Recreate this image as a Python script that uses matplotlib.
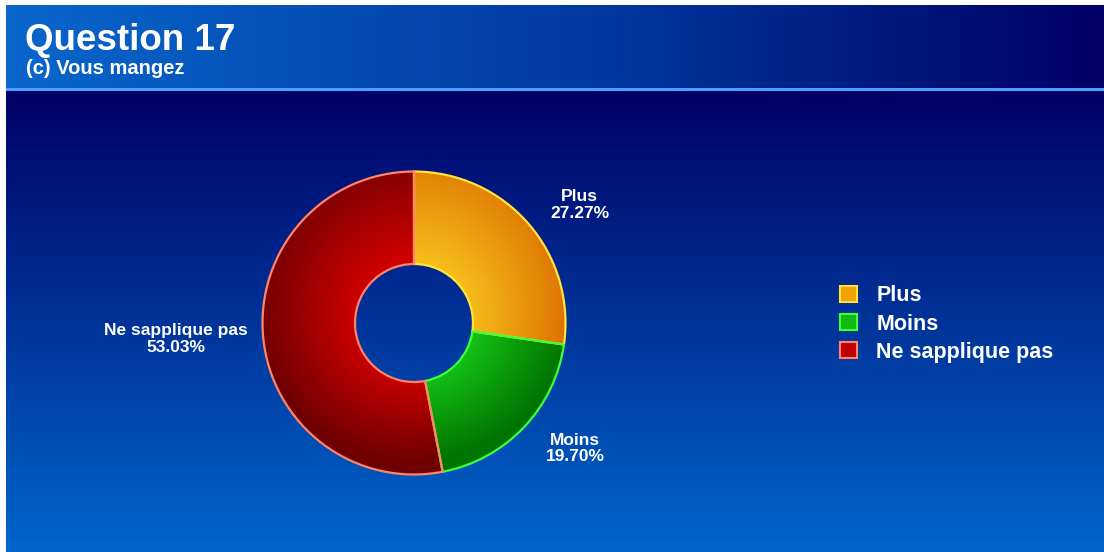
import numpy as np
import matplotlib
matplotlib.use("Agg")
import matplotlib.pyplot as plt
from matplotlib.colors import LinearSegmentedColormap, to_rgb
from matplotlib.patches import Rectangle, Patch

plt.rcParams['font.family'] = ['Liberation Sans', 'DejaVu Sans']

title = "Question 17"
subtitle = "(c) Vous mangez"
categories = ["Plus", "Moins", "Ne sapplique pas"]
shares = [27.27, 19.70, 53.03]

inner_colors = ["#F8C21C", "#18CC18", "#D60000"]
outer_colors = ["#DC7000", "#007400", "#700000"]
edge_colors = ["#FFE23A", "#3CFF3C", "#FF8468"]
legend_colors = ["#F2A200", "#10B810", "#C00000"]
label_dist = [1.19, 1.2, 1.1]

W, H = 1104, 552
fig = plt.figure(figsize=(W / 100, H / 100), dpi=100)
fig.patch.set_facecolor("white")

# background: pixel-space axes covering the whole figure
bg = fig.add_axes([0, 0, 1, 1])
hdr_cmap = LinearSegmentedColormap.from_list(
    "hdr", [(0, "#0A66CC"), (0.55, "#00389F"), (1, "#000066")])
bg.imshow(np.linspace(0, 1, 256)[None, :], cmap=hdr_cmap,
          extent=[6, W, 89, 5], aspect="auto", interpolation="bicubic")
body_cmap = LinearSegmentedColormap.from_list("body", ["#000066", "#0066CC"])
bg.imshow(np.linspace(0, 1, 256)[:, None], cmap=body_cmap,
          extent=[6, W, H, 91], aspect="auto", interpolation="bicubic")
bg.add_patch(Rectangle((6, 88), W - 6, 3, color="#45A2FF", lw=0))
bg.set_xlim(0, W)
bg.set_ylim(H, 0)
bg.axis("off")

bg.text(25, 50, title, color="white", fontsize=26.5, fontweight="bold",
        va="baseline", ha="left")
bg.text(26, 74, subtitle, color="white", fontsize=14.5, fontweight="bold",
        va="baseline", ha="left")

# donut
cx, cy, R = 414, 323, 153
ax = fig.add_axes([(cx - R) / W, (H - cy - R) / H, 2 * R / W, 2 * R / H])
hole = 59 / 151.5
labels = [f"{c}\n{v:.2f}%" for c, v in zip(categories, shares)]
wedges, texts = ax.pie(
    shares, labels=labels, startangle=90, counterclock=False, radius=1,
    wedgeprops=dict(width=1 - hole, linewidth=0),
    textprops=dict(color="white", fontsize=12.5, fontweight="bold",
                   multialignment="center", linespacing=1.12))
for w, t, d in zip(wedges, texts, label_dist):
    ang = np.deg2rad((w.theta1 + w.theta2) / 2)
    t.set_position((d * np.cos(ang), d * np.sin(ang)))
    t.set_va("center")

n = 400
xs = np.linspace(-1, 1, n)
xx, yy = np.meshgrid(xs, xs)
rr = np.hypot(xx, yy)
tt = np.clip((rr - hole) / (1 - hole), 0, 1)
tt = np.clip(0.85 * tt + 0.18 * (-yy) + 0.1, 0, 1)

for i, w in enumerate(wedges):
    c0 = np.array(to_rgb(inner_colors[i]))
    c1 = np.array(to_rgb(outer_colors[i]))
    img = c0[None, None, :] * (1 - tt[..., None]) + c1[None, None, :] * tt[..., None]
    im = ax.imshow(img, extent=[-1, 1, -1, 1], origin="lower",
                   interpolation="bilinear", zorder=1)
    im.set_clip_path(w)
    w.set_facecolor("none")
    w.set_edgecolor(edge_colors[i])
    w.set_linewidth(1.6)
    w.set_zorder(3 + i)

ax.set_xlim(-1.01, 1.01)
ax.set_ylim(-1.01, 1.01)
ax.set_aspect("equal")
ax.axis("off")

handles = [Patch(facecolor=legend_colors[i], edgecolor=edge_colors[i], lw=1.5)
           for i in range(len(categories))]
leg = fig.legend(handles, categories, loc="center left",
                 bbox_to_anchor=(840 / W, 1 - 324 / H), frameon=False,
                 prop=dict(size=15.5, weight="bold"), labelcolor="white",
                 handlelength=0.78, handleheight=0.78, handletextpad=0.9,
                 labelspacing=0.33, borderpad=0, borderaxespad=0)

fig.savefig("out.png", dpi=100)
